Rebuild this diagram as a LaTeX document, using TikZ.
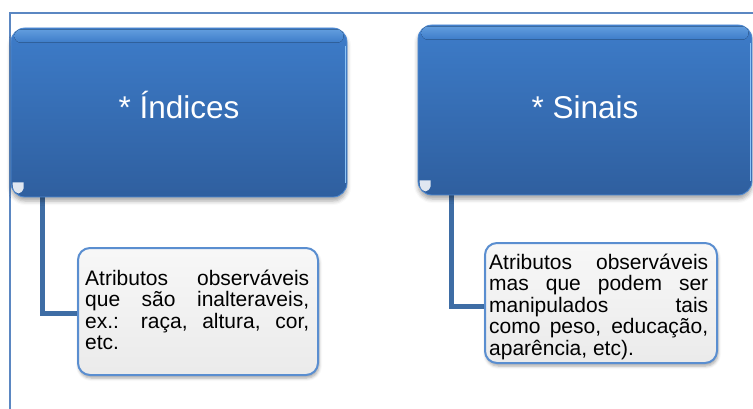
\documentclass[tikz,border=0pt]{standalone}
\usepackage{fontspec}
\setmainfont{Liberation Sans}
\usetikzlibrary{shadows.blur,calc}
\pgfdeclarelayer{background}
\pgfsetlayers{background,main}
\definecolor{frameblue}{HTML}{5B87C2}
\definecolor{boxtop}{HTML}{3D7CC9}
\definecolor{boxbot}{HTML}{2F5F9F}
\definecolor{boxedge}{HTML}{4F8AD2}
\definecolor{gloss}{HTML}{8CC3F5}
\definecolor{connblue}{HTML}{3E6DA5}
\definecolor{noteedge}{HTML}{5A8ED0}
\tikzset{
  bigbox/.style={rectangle, rounded corners=14pt, top color=boxtop, bottom color=boxbot,
    draw=boxedge, line width=0.8pt, text=white, inner sep=0pt,
    font=\fontsize{31.5}{36}\selectfont, text depth=0pt,
    blur shadow={shadow xshift=0pt, shadow yshift=-4pt, shadow blur radius=4pt, shadow opacity=35}},
  notebox/.style={rectangle, rounded corners=12pt, top color=white!97!black, bottom color=white!92!black,
    draw=noteedge, line width=2pt,
    blur shadow={shadow xshift=1pt, shadow yshift=-3pt, shadow blur radius=3pt, shadow opacity=35}},
  notetext/.style={anchor=north west, inner sep=0pt, align=justify,
    font=\fontsize{21}{21.6}\selectfont},
  conn/.style={draw=connblue, line width=5pt},
  frameline/.style={draw=frameblue, line width=1.2pt},
  glossband/.style={rounded corners=6pt, top color=boxtop!55!gloss, middle color=gloss, bottom color=boxtop},
  edgeglow/.style={draw=gloss, line width=1.5pt},
  cornerspot/.style={fill=white, opacity=0.85}
}
\begin{document}
\begin{tikzpicture}[x=1pt,y=-1pt]
\useasboundingbox (0,0) rectangle (753,409);

% big boxes
\node[bigbox, minimum width=336pt, minimum height=169pt, text height=12pt] (ind) at (179,112.5) {* Índices};
\node[bigbox, minimum width=334pt, minimum height=170pt, text height=18pt] (sin) at (585,110) {* Sinais};

% gloss on big boxes
\foreach \b in {ind,sin}{
  \fill[glossband] ($(\b.north west)+(4,2)$) rectangle ($(\b.north east)+(-4,15)$);
  \draw[edgeglow] ($(\b.north east)+(-2,18)$) -- ($(\b.south east)+(-2,-14)$);
  \fill[cornerspot] ($(\b.south west)+(2,-15)$) -- ++(11,0) -- ++(0,6)
     .. controls ($(\b.south west)+(11,-5)$) .. ($(\b.south west)+(8,-4)$)
     .. controls ($(\b.south west)+(3,-5)$) and ($(\b.south west)+(2,-9)$) .. cycle;
}

% note boxes
\node[notebox, minimum width=240pt, minimum height=127pt] (n1) at (198,311.5) {};
\node[notebox, minimum width=232pt, minimum height=120pt] (n2) at (601,303) {};

\node[notetext, text width=224pt] (t1) at (85,269.5)
  {Atributos observáveis\linebreak que são inalteraveis,\linebreak ex.: raça, altura, cor,\linebreak etc.};
\node[notetext, text width=219pt] (t2) at (489,253.5)
  {Atributos observáveis\linebreak mas que podem ser\linebreak manipulados tais\linebreak como peso, educação,\linebreak aparência, etc).};

\begin{pgfonlayer}{background}
  \draw[frameline] (753,13) -- (10,13) -- (10,409);
  \draw[conn] ($(ind.south west)+(32,0)$) |- ([yshift=-1.5pt]n1.west);
  \draw[conn] ($(sin.south west)+(34,0)$) |- ([yshift=-3pt]n2.west);
\end{pgfonlayer}
\end{tikzpicture}
\end{document}
